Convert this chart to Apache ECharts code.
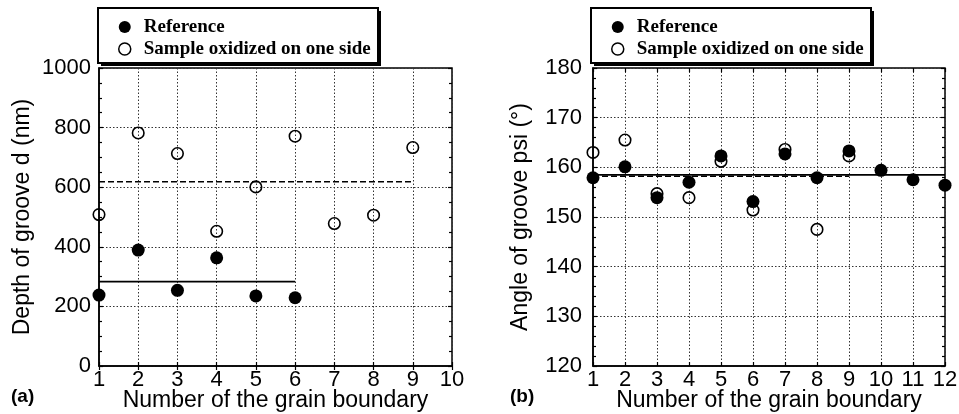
<!DOCTYPE html>
<html><head><meta charset="utf-8">
<script src="https://cdn.jsdelivr.net/npm/echarts@6/dist/echarts.min.js"></script>
<style>html,body{margin:0;padding:0;background:#fff}#c{width:959px;height:414px}</style>
</head><body><div id="c"></div>
<script>
// ---- Panel (a): depth of groove d (nm) ----
const depthRefBoundaries = [1, 2, 3, 4, 5, 6];
const depthRef = [238, 389, 254, 363, 235, 229];
const depthSampleBoundaries = [1, 2, 3, 4, 5, 6, 7, 8, 9];
const depthSample = [508, 782, 713, 452, 601, 771, 478, 506, 733];
const depthRefMean = 283;      // solid line, boundaries 1..6
const depthSampleMean = 618;   // dashed line, boundaries 1..9
const depthTicks = [0, 200, 400, 600, 800, 1000];

// ---- Panel (b): angle of groove psi (deg) ----
const angleRefBoundaries = [1, 2, 3, 4, 5, 6, 7, 8, 9, 10, 11, 12];
const angleRef = [157.9, 160.1, 153.9, 157.0, 162.3, 153.1, 162.7, 157.9, 163.3, 159.4, 157.5, 156.4];
const angleSampleBoundaries = [1, 2, 3, 4, 5, 6, 7, 8, 9];
const angleSample = [163.0, 165.5, 154.7, 153.9, 161.2, 151.4, 163.6, 147.5, 162.3];
const angleRefMean = 158.5;    // solid line, boundaries 1..12
const angleSampleMean = 158.2; // dashed line, boundaries 1..9
const angleTicks = [120, 130, 140, 150, 160, 170, 180];

const seriesNames = ['Reference', 'Sample oxidized on one side'];
const xTitle = 'Number of the grain boundary';
const yTitleA = 'Depth of groove d (nm)';
const yTitleB = 'Angle of groove psi (°)';

const SANS = '"Liberation Sans", Arial, sans-serif';
const SERIF = '"Liberation Serif", "Times New Roman", serif';

const pairs = (xs, ys) => xs.map((x, i) => [x, ys[i]]);

function xAx(grid, max, show) {
  return {
    type: 'value', gridIndex: grid, min: 1, max: max, interval: 1,
    position: show ? 'bottom' : 'top',
    axisLine: { show: show, lineStyle: { color: '#000', width: 1.5 } },
    axisTick: { show: true, inside: true, length: 4, lineStyle: { color: '#000', width: 1.2 } },
    axisLabel: { show: show, color: '#000', fontFamily: SANS, fontSize: 22, margin: 3, formatter: v => String(v) },
    splitLine: { show: show, lineStyle: { color: '#333', width: 1, type: [1.5, 2] } },
    name: show ? xTitle : '', nameLocation: 'middle', nameGap: 23, nameMoveOverlap: false,
    nameTextStyle: { color: '#000', fontFamily: SANS, fontSize: 23 }
  };
}
function yAx(grid, min, max, interval, split, show, title, gap, margin) {
  return {
    type: 'value', gridIndex: grid, min: min, max: max, interval: interval,
    position: show ? 'left' : 'right',
    axisLine: { show: show, lineStyle: { color: '#000', width: 1.5 } },
    axisTick: { show: true, inside: true, length: 4, lineStyle: { color: '#000', width: 1.2 } },
    minorTick: { show: true, splitNumber: split, length: 3, lineStyle: { color: '#000', width: 1.2 } },
    axisLabel: { show: show, color: '#000', fontFamily: SANS, fontSize: 22, margin: margin, formatter: v => String(v) },
    splitLine: { show: show, lineStyle: { color: '#333', width: 1, type: [1.5, 2] } },
    name: show ? title : '', nameLocation: 'middle', nameGap: gap, nameRotate: 90, nameMoveOverlap: false,
    nameTextStyle: { color: '#000', fontFamily: SANS, fontSize: 23 }
  };
}

function scatterPair(xi, yi, refData, sampleData) {
  return [
    { name: seriesNames[1], type: 'scatter', xAxisIndex: xi, yAxisIndex: yi, data: sampleData,
      symbol: 'circle', symbolSize: 11.5, z: 3,
      itemStyle: { color: 'rgba(255,255,255,0)', borderColor: '#000', borderWidth: 1.6, opacity: 1 } },
    { name: seriesNames[0], type: 'scatter', xAxisIndex: xi, yAxisIndex: yi, data: refData,
      symbol: 'circle', symbolSize: 13, z: 4,
      itemStyle: { color: '#000', borderColor: '#000', borderWidth: 0, opacity: 1 } }
  ];
}
function meanLine(xi, yi, x0, x1, v, dashed) {
  return { name: dashed ? 'meanSample' : 'meanRef', type: 'line', xAxisIndex: xi, yAxisIndex: yi,
    data: [[x0, v], [x1, v]], symbol: 'none', silent: true, z: 2,
    lineStyle: { color: '#000', width: dashed ? 1.5 : 1.8, type: dashed ? [6, 3] : 'solid' } };
}
function legendAt(boxLeft) {
  return {
    left: boxLeft + 20, top: 17, orient: 'vertical', itemGap: 2, z: 20,
    padding: 0, backgroundColor: 'transparent', borderWidth: 0,
    itemWidth: 12, itemHeight: 12,
    textStyle: { color: '#000', fontFamily: SERIF, fontWeight: 'bold', fontSize: 19, lineHeight: 20, padding: [0, 0, 0, 8] },
    selectedMode: false,
    data: [
      { name: seriesNames[0], icon: 'circle', itemStyle: { color: '#000', borderWidth: 0 } },
      { name: seriesNames[1], icon: 'circle', itemStyle: { color: '#fff', borderColor: '#000', borderWidth: 1.5 } }
    ]
  };
}
function legendBox(x) {
  return [
    { type: 'rect', z: 5, shape: { x: x + 3, y: 11, width: 280, height: 55 }, style: { fill: '#000' }, silent: true },
    { type: 'rect', z: 6, shape: { x: x, y: 8, width: 280, height: 55 }, style: { fill: '#fff', stroke: '#000', lineWidth: 2 }, silent: true }
  ];
}

const gridBase = { top: 68, height: 298, show: true, borderColor: '#000', borderWidth: 1.5,
  backgroundColor: 'transparent', containLabel: false, outerBoundsMode: 'none' };

const chart = echarts.init(document.getElementById('c'), null, { renderer: 'canvas' });
chart.setOption({
  backgroundColor: '#fff',
  animation: false,
  grid: [
    Object.assign({ left: 99, width: 353 }, gridBase),
    Object.assign({ left: 593, width: 352 }, gridBase)
  ],
  legend: [legendAt(98), legendAt(591)],
  xAxis: [xAx(0, 10, true), xAx(0, 10, false), xAx(1, 12, true), xAx(1, 12, false)],
  yAxis: [
    yAx(0, depthTicks[0], depthTicks[depthTicks.length - 1], 200, 4, true, yTitleA, 65, 8),
    yAx(0, depthTicks[0], depthTicks[depthTicks.length - 1], 200, 4, false, '', 0, 8),
    yAx(1, angleTicks[0], angleTicks[angleTicks.length - 1], 10, 5, true, yTitleB, 61, 11),
    yAx(1, angleTicks[0], angleTicks[angleTicks.length - 1], 10, 5, false, '', 0, 11)
  ],
  graphic: [
    ...legendBox(98),
    ...legendBox(591),
    { type: 'text', left: 11, top: 387, style: { text: '(a)', fill: '#000', font: 'bold 19px ' + SANS } },
    { type: 'text', left: 510, top: 387, style: { text: '(b)', fill: '#000', font: 'bold 19px ' + SANS } }
  ],
  series: [
    meanLine(0, 0, 1, 6, depthRefMean, false),
    meanLine(0, 0, 1, 9, depthSampleMean, true),
    ...scatterPair(0, 0, pairs(depthRefBoundaries, depthRef), pairs(depthSampleBoundaries, depthSample)),
    meanLine(2, 2, 1, 12, angleRefMean, false),
    meanLine(2, 2, 1, 9, angleSampleMean, true),
    ...scatterPair(2, 2, pairs(angleRefBoundaries, angleRef), pairs(angleSampleBoundaries, angleSample))
  ]
});
</script></body></html>
